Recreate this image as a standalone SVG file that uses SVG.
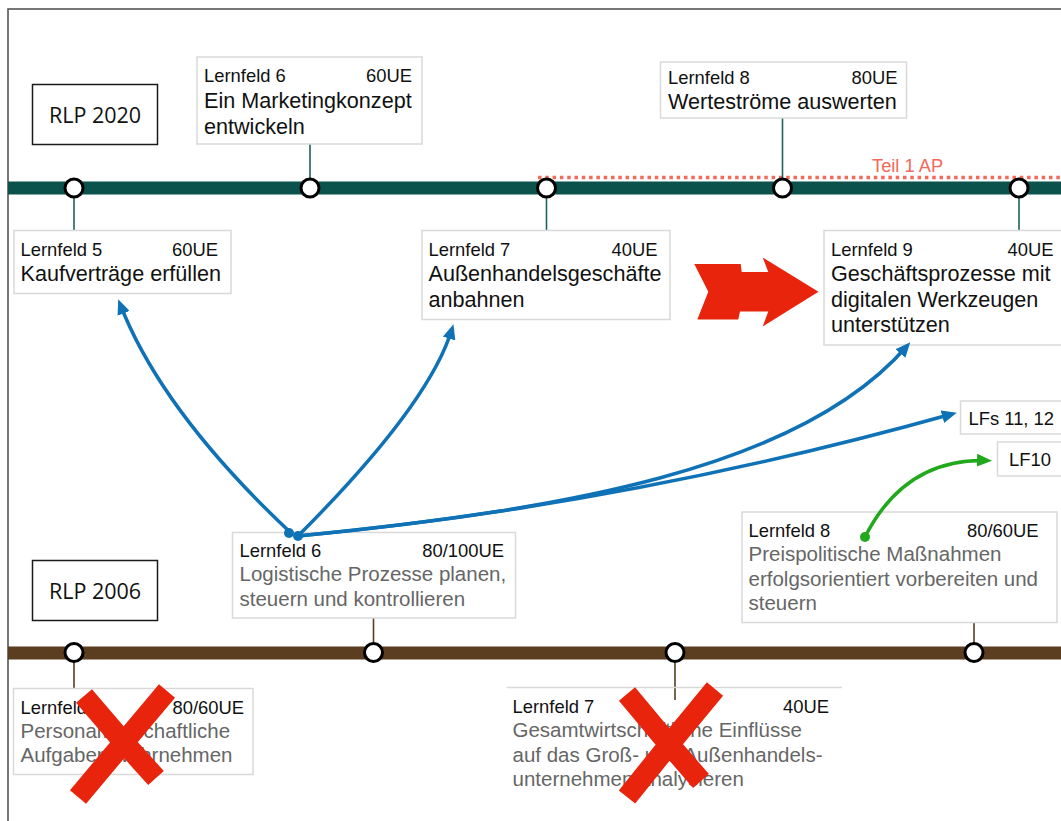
<svg xmlns="http://www.w3.org/2000/svg" width="1061" height="821" viewBox="0 0 1061 821">
<style>
.box{fill:#fff;stroke:#d9d9d9;stroke-width:1.5}
.rlp{fill:#fff;stroke:#1a1a1a;stroke-width:1.5}
.rlpt{font-family:"Open Sans","Noto Sans",sans-serif;font-size:21.5px;fill:#111;text-anchor:middle}
.h{font-family:"Liberation Sans",Arial,sans-serif;font-size:18.4px;fill:#111}
.e{text-anchor:end}
.b{font-family:"Liberation Sans",Arial,sans-serif;font-size:21.6px;fill:#111}
.g{font-family:"Liberation Sans",Arial,sans-serif;font-size:20.5px;fill:#666}
.tick{stroke:#1f625c;stroke-width:1.6;fill:none}
.tickb{stroke:#5b3d1f;stroke-width:1.6;fill:none}
.stop{fill:#fff;stroke:#000;stroke-width:3}
.blue{fill:none;stroke:#0f72b6;stroke-width:3.5}
.green{fill:none;stroke:#22a81c;stroke-width:3.5}
.x{stroke:#e8240d;stroke-width:21;stroke-linecap:butt;stroke-linejoin:round;fill:none}
</style>
<defs>
<marker id="ab" markerUnits="userSpaceOnUse" markerWidth="15" markerHeight="13" viewBox="0 0 15 13" refX="10" refY="6.5" orient="auto"><path d="M0,0 L15,6.5 L0,13 z" fill="#0f72b6"/></marker>
<marker id="ag" markerUnits="userSpaceOnUse" markerWidth="15" markerHeight="13" viewBox="0 0 15 13" refX="10" refY="6.5" orient="auto"><path d="M0,0 L15,6.5 L0,13 z" fill="#22a81c"/></marker>
</defs>
<rect x="0" y="0" width="1061" height="821" fill="#fff"/>
<rect x="8" y="9" width="1120" height="900" fill="none" stroke="#555" stroke-width="1.6"/>

<g id="timelines">
<line x1="8" y1="188" x2="1061" y2="188" stroke="#0b524c" stroke-width="13"/>
<line x1="538" y1="177.5" x2="1061" y2="177.5" stroke="#f26a5a" stroke-width="3.5" stroke-dasharray="3.5 3.8"/>
<text x="872" y="171.5" font-family="Liberation Sans, Arial, sans-serif" font-size="18.3" fill="#f26a5a">Teil 1 AP</text>
<line x1="8" y1="653" x2="1061" y2="653" stroke="#5b3d1f" stroke-width="13"/>
</g>

<g id="ticks">
<line class="tick" x1="310" y1="144" x2="310" y2="180"/>
<line class="tick" x1="74" y1="196" x2="74" y2="230"/>
<line class="tick" x1="546.5" y1="196" x2="546.5" y2="230"/>
<line class="tick" x1="782.5" y1="118" x2="782.5" y2="180"/>
<line class="tick" x1="1019" y1="196" x2="1019" y2="230"/>
<line class="tickb" x1="373.5" y1="618" x2="373.5" y2="645"/>
<line class="tickb" x1="74" y1="661" x2="74" y2="688"/>
<line class="tickb" x1="675" y1="661" x2="675" y2="700"/>
<line class="tickb" x1="974" y1="622" x2="974" y2="645"/>
</g>

<g id="stops">
<circle class="stop" cx="74" cy="188" r="9"/>
<circle class="stop" cx="310" cy="188" r="9"/>
<circle class="stop" cx="546.5" cy="188" r="9"/>
<circle class="stop" cx="782.5" cy="188" r="9"/>
<circle class="stop" cx="1019" cy="188" r="9"/>
<circle class="stop" cx="74" cy="652.5" r="9"/>
<circle class="stop" cx="373.5" cy="652.5" r="9"/>
<circle class="stop" cx="675" cy="652.5" r="9"/>
<circle class="stop" cx="974" cy="652.5" r="9"/>
</g>

<g id="rlp2020">
<rect class="rlp" x="32.5" y="84.5" width="125" height="60"/>
<text class="rlpt" x="95" y="123">RLP 2020</text>
</g>
<g id="rlp2006">
<rect class="rlp" x="32.5" y="560.5" width="125" height="60"/>
<text class="rlpt" x="95" y="599">RLP 2006</text>
</g>

<g id="lf6-new">
<rect class="box" x="197" y="57" width="225" height="87"/>
<text class="h" x="204" y="82">Lernfeld 6</text>
<text class="h e" x="412" y="82">60UE</text>
<text class="b" x="204" y="108">Ein Marketingkonzept</text>
<text class="b" x="204" y="133.5">entwickeln</text>
</g>

<g id="lf8-new">
<rect class="box" x="660.5" y="62" width="246" height="56"/>
<text class="h" x="668" y="84">Lernfeld 8</text>
<text class="h e" x="897.5" y="84">80UE</text>
<text class="b" x="668" y="108.5">Werteströme auswerten</text>
</g>

<g id="lf5-new">
<rect class="box" x="14" y="230.5" width="217" height="63"/>
<text class="h" x="20.5" y="256">Lernfeld 5</text>
<text class="h e" x="218" y="256">60UE</text>
<text class="b" x="20.5" y="281">Kaufverträge erfüllen</text>
</g>

<g id="lf7-new">
<rect class="box" x="422" y="230.5" width="248" height="89"/>
<text class="h" x="428.5" y="256">Lernfeld 7</text>
<text class="h e" x="657.5" y="256">40UE</text>
<text class="b" x="428.5" y="281">Außenhandelsgeschäfte</text>
<text class="b" x="428.5" y="306.5">anbahnen</text>
</g>

<g id="lf9-new">
<rect class="box" x="824" y="230.5" width="250" height="114.5"/>
<text class="h" x="831" y="256">Lernfeld 9</text>
<text class="h e" x="1053.5" y="256">40UE</text>
<text class="b" x="831" y="281">Geschäftsprozesse mit</text>
<text class="b" x="831" y="306.5">digitalen Werkzeugen</text>
<text class="b" x="831" y="332">unterstützen</text>
</g>

<g id="big-arrow">
<polygon points="694.3,264 740.7,264 741.7,272 768.3,272 762.7,257.5 818.5,291.7 762.7,326.5 768.3,311.5 740,311.5 738.3,319.5 697.3,319.5 708.3,291.7" fill="#e8240d"/>
</g>

<g id="lfs1112">
<rect class="box" x="960.5" y="401" width="110" height="33"/>
<text class="h" x="968.5" y="425">LFs 11, 12</text>
</g>
<g id="lf10">
<rect class="box" x="997.5" y="442" width="80" height="34"/>
<text class="h" x="1009" y="466">LF10</text>
</g>

<g id="lf6-old">
<rect class="box" x="232.5" y="532.5" width="283" height="85.5"/>
<text class="h" x="239.5" y="557">Lernfeld 6</text>
<text class="h e" x="504" y="557">80/100UE</text>
<text class="g" x="239.5" y="581">Logistische Prozesse planen,</text>
<text class="g" x="239.5" y="605.5">steuern und kontrollieren</text>
</g>

<g id="lf8-old">
<rect class="box" x="742" y="512" width="315" height="110.5"/>
<text class="h" x="748.5" y="537">Lernfeld 8</text>
<text class="h e" x="1038.5" y="537">80/60UE</text>
<text class="g" x="748.5" y="561">Preispolitische Maßnahmen</text>
<text class="g" x="748.5" y="585.5">erfolgsorientiert vorbereiten und</text>
<text class="g" x="748.5" y="610">steuern</text>
</g>

<g id="lf5-old">
<rect class="box" x="13.5" y="688.5" width="239.5" height="86"/>
<text class="h" x="20.5" y="713.5">Lernfeld 5</text>
<text class="h e" x="244" y="713.5">80/60UE</text>
<text class="g" x="20.5" y="737.5">Personalwirtschaftliche</text>
<text class="g" x="20.5" y="762">Aufgaben wahrnehmen</text>
<path class="x" d="M78,797 L104,766 L167,691 M84,696 L120,738 L156,778"/>
</g>

<g id="lf7-old">
<line x1="506.5" y1="687.5" x2="842" y2="687.5" stroke="#d9d9d9" stroke-width="1.5"/>
<text class="h" x="512.5" y="713">Lernfeld 7</text>
<text class="h e" x="829" y="713">40UE</text>
<text class="g" x="512.5" y="737">Gesamtwirtschaftliche Einflüsse</text>
<text class="g" x="512.5" y="761.5">auf das Groß- und Außenhandels-</text>
<text class="g" x="512.5" y="786">unternehmen analysieren</text>
<path class="x" d="M627,797 L668,746 L715,689 M627,694 L662,736 L701,781"/>
</g>

<g id="connectors">
<path class="blue" d="M291,533 Q162,412 120,304" marker-end="url(#ab)"/>
<path class="blue" d="M298,536 Q429,405 452,329" marker-end="url(#ab)"/>
<path class="blue" d="M298,536 C560,510 800,470 907,346" marker-end="url(#ab)"/>
<path class="blue" d="M298,536 Q627,505 952,414" marker-end="url(#ab)"/>
<circle cx="289" cy="533" r="5" fill="#0f72b6"/>
<circle cx="298" cy="536" r="5" fill="#0f72b6"/>
<path class="green" d="M865,537 Q905,458 987,460.5" marker-end="url(#ag)"/>
<circle cx="865" cy="537" r="5" fill="#22a81c"/>
</g>
</svg>
